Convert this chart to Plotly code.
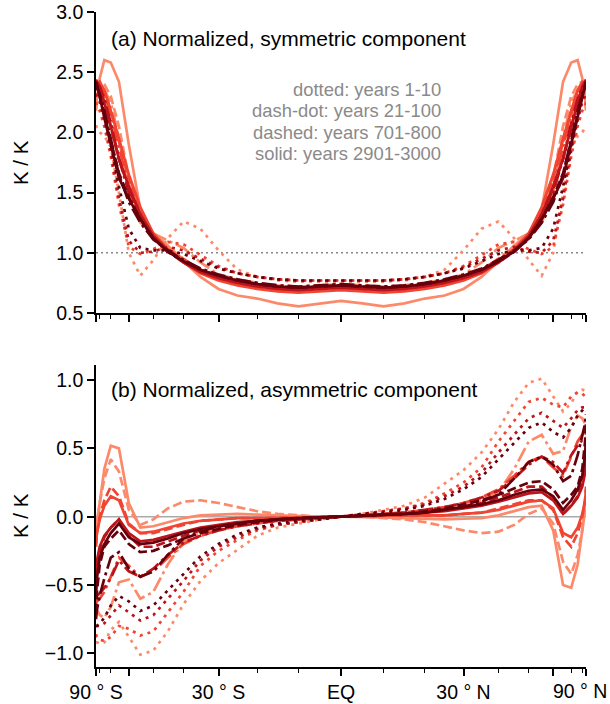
import numpy as np
import plotly.graph_objects as go

# Latitudes of the northern-hemisphere samples (degrees)
lat_nh = [0, 5, 10, 15, 20, 25, 30, 35, 40, 45, 50, 55, 60, 65, 70, 75, 80, 85, 90]

# Experiment colours (light to dark) and period line styles
colors = ["#fc8a6a", "#f14432", "#bc141a", "#67000d"]
periods = ["years 1-10", "years 21-100", "years 701-800", "years 2901-3000"]
dashes = ["3px,5px", "15px,4px,3px,4px", "9px,4px", "solid"]

# (a) normalized symmetric component, NH half (even in latitude)
sym = {
    (0, 0): [0.76, 0.76, 0.76, 0.77, 0.80, 0.86, 1.02, 1.20, 1.26, 1.12, 0.94, 0.81, 1.00, 1.50, 1.88, 1.97, 2.00, 2.04, 2.06],
    (1, 0): [0.77, 0.77, 0.77, 0.78, 0.80, 0.83, 0.89, 0.98, 1.07, 1.09, 1.03, 0.99, 1.05, 1.40, 1.80, 2.05, 2.18, 2.22, 2.25],
    (2, 0): [0.77, 0.77, 0.77, 0.78, 0.80, 0.83, 0.88, 0.95, 1.02, 1.05, 1.01, 1.00, 1.10, 1.45, 1.85, 2.10, 2.25, 2.30, 2.32],
    (3, 0): [0.77, 0.77, 0.77, 0.78, 0.80, 0.83, 0.87, 0.93, 0.99, 1.02, 1.02, 1.04, 1.20, 1.55, 1.90, 2.15, 2.30, 2.38, 2.40],
    (0, 1): [0.74, 0.73, 0.72, 0.73, 0.75, 0.78, 0.82, 0.92, 1.04, 1.10, 1.16, 1.25, 1.50, 1.95, 2.25, 2.35, 2.38, 2.30, 2.20],
    (1, 1): [0.72, 0.71, 0.70, 0.71, 0.73, 0.76, 0.80, 0.86, 0.95, 1.03, 1.13, 1.30, 1.55, 1.88, 2.15, 2.32, 2.40, 2.38, 2.35],
    (2, 1): [0.73, 0.72, 0.71, 0.72, 0.74, 0.77, 0.81, 0.86, 0.94, 1.02, 1.12, 1.28, 1.50, 1.78, 2.08, 2.28, 2.38, 2.40, 2.40],
    (3, 1): [0.74, 0.73, 0.72, 0.73, 0.75, 0.78, 0.82, 0.87, 0.94, 1.02, 1.11, 1.25, 1.42, 1.65, 1.95, 2.18, 2.32, 2.38, 2.40],
    (0, 2): [0.70, 0.69, 0.68, 0.69, 0.71, 0.74, 0.78, 0.85, 0.95, 1.05, 1.15, 1.32, 1.62, 2.05, 2.30, 2.40, 2.42, 2.35, 2.25],
    (1, 2): [0.70, 0.69, 0.68, 0.69, 0.71, 0.74, 0.78, 0.84, 0.92, 1.02, 1.15, 1.35, 1.62, 1.92, 2.18, 2.34, 2.42, 2.40, 2.38],
    (2, 2): [0.72, 0.71, 0.70, 0.71, 0.73, 0.76, 0.80, 0.85, 0.92, 1.01, 1.13, 1.31, 1.53, 1.78, 2.05, 2.25, 2.36, 2.40, 2.42],
    (3, 2): [0.73, 0.72, 0.71, 0.72, 0.74, 0.77, 0.81, 0.86, 0.93, 1.01, 1.12, 1.28, 1.46, 1.66, 1.92, 2.14, 2.30, 2.38, 2.42],
    (0, 3): [0.60, 0.58, 0.555, 0.58, 0.62, 0.645, 0.70, 0.80, 0.93, 1.06, 1.16, 1.36, 1.90, 2.42, 2.58, 2.60, 2.45, 2.28, 2.18],
    (1, 3): [0.69, 0.68, 0.67, 0.68, 0.70, 0.73, 0.77, 0.83, 0.92, 1.03, 1.16, 1.38, 1.65, 1.95, 2.18, 2.35, 2.42, 2.40, 2.38],
    (2, 3): [0.71, 0.70, 0.69, 0.70, 0.72, 0.75, 0.79, 0.84, 0.92, 1.02, 1.14, 1.32, 1.55, 1.78, 2.05, 2.25, 2.38, 2.42, 2.44],
    (3, 3): [0.73, 0.72, 0.71, 0.72, 0.74, 0.77, 0.81, 0.86, 0.93, 1.01, 1.12, 1.28, 1.45, 1.62, 1.90, 2.12, 2.30, 2.40, 2.42],
}

# (b) normalized asymmetric component, NH half (odd in latitude)
asym = {
    (0, 0): [0, 0.02, 0.05, 0.08, 0.14, 0.24, 0.34, 0.47, 0.64, 0.84, 0.98, 1.01, 0.88, 0.77, 0.83, 0.92, 0.93, 0.92, 0.92],
    (1, 0): [0, 0.02, 0.04, 0.06, 0.10, 0.17, 0.25, 0.36, 0.55, 0.70, 0.84, 0.87, 0.82, 0.80, 0.88, 0.91, 0.90, 0.88, 0.86],
    (2, 0): [0, 0.02, 0.04, 0.06, 0.09, 0.15, 0.22, 0.32, 0.47, 0.60, 0.72, 0.76, 0.70, 0.65, 0.72, 0.78, 0.80, 0.80, 0.80],
    (3, 0): [0, 0.02, 0.03, 0.05, 0.08, 0.13, 0.20, 0.29, 0.42, 0.54, 0.65, 0.69, 0.62, 0.58, 0.65, 0.74, 0.78, 0.80, 0.80],
    (0, 1): [0, 0.01, 0.02, 0.03, 0.04, 0.06, 0.08, 0.12, 0.18, 0.35, 0.55, 0.60, 0.46, 0.48, 0.66, 0.74, 0.72, 0.68, 0.64],
    (1, 1): [0, 0.01, 0.02, 0.03, 0.05, 0.07, 0.10, 0.14, 0.20, 0.30, 0.40, 0.44, 0.36, 0.30, 0.44, 0.55, 0.60, 0.62, 0.60],
    (2, 1): [0, 0.01, 0.02, 0.03, 0.05, 0.07, 0.10, 0.14, 0.19, 0.28, 0.38, 0.44, 0.40, 0.32, 0.45, 0.52, 0.56, 0.58, 0.58],
    (3, 1): [0, 0.005, 0.01, 0.02, 0.03, 0.05, 0.07, 0.11, 0.16, 0.28, 0.40, 0.44, 0.38, 0.26, 0.30, 0.45, 0.58, 0.68, 0.75],
    (0, 2): [0, 0, -0.01, -0.02, -0.04, -0.07, -0.10, -0.12, -0.11, -0.06, 0.02, 0.06, -0.05, -0.33, -0.42, -0.28, -0.10, 0.08, 0.18],
    (1, 2): [0, 0.005, 0.01, 0.01, 0.01, 0.01, 0.02, 0.03, 0.06, 0.09, 0.12, 0.12, 0.05, -0.15, -0.22, -0.12, 0.0, 0.12, 0.22],
    (2, 2): [0, 0.005, 0.01, 0.02, 0.03, 0.05, 0.07, 0.10, 0.14, 0.18, 0.22, 0.22, 0.14, 0.02, 0.08, 0.15, 0.25, 0.40, 0.55],
    (3, 2): [0, 0.005, 0.01, 0.02, 0.04, 0.06, 0.09, 0.12, 0.16, 0.21, 0.25, 0.26, 0.20, 0.10, 0.16, 0.22, 0.35, 0.55, 0.70],
    (0, 3): [0, 0, -0.005, -0.01, -0.015, -0.02, -0.015, -0.01, 0.01, 0.04, 0.07, 0.08, -0.10, -0.50, -0.52, -0.35, -0.10, 0.03, 0.10],
    (1, 3): [0, 0.005, 0.01, 0.01, 0.01, 0.01, 0.02, 0.03, 0.05, 0.08, 0.11, 0.12, 0.06, -0.12, -0.15, -0.08, 0.02, 0.12, 0.20],
    (2, 3): [0, 0.005, 0.01, 0.02, 0.03, 0.04, 0.06, 0.08, 0.11, 0.14, 0.17, 0.18, 0.12, 0.02, 0.08, 0.14, 0.22, 0.32, 0.40],
    (3, 3): [0, 0.005, 0.01, 0.02, 0.03, 0.05, 0.07, 0.09, 0.12, 0.16, 0.19, 0.20, 0.15, 0.05, 0.12, 0.20, 0.30, 0.45, 0.55],
}

# x-axis tick positions / labels (latitude, area-weighted axis)
major_lats = [-90, -60, -30, 0, 30, 60, 90]
major_text = ["90 ° S", "", "30 ° S", "EQ", "30 ° N", "", ""]
edge_label = "90 ° N"   # right-most label, kept inside the page edge
minor_lats = [-80, -70, -50, -40, -20, -10, 10, 20, 40, 50, 70, 80]

legend_lines = ["dotted: years 1-10", "dash-dot: years 21-100",
                "dashed: years 701-800", "solid: years 2901-3000"]

FONT = "Liberation Sans, Arial, Helvetica, sans-serif"

# plot-area geometry in pixels
W, H = 610, 704
L, R, T, B = 96, 24, 12, 37
PW, PH = W - L - R, H - T - B


def px_x(px):
    return (px - L) / PW


def px_y(py):
    return (H - B - py) / PH


def sinlat(lats):
    return np.sin(np.deg2rad(np.asarray(lats, dtype=float)))


lat_full = [-v for v in lat_nh[::-1][:-1]] + lat_nh
x_full = sinlat(lat_full)


def even(nh):
    return list(nh[::-1][:-1]) + list(nh)


def odd(nh):
    return [-v for v in nh[::-1][:-1]] + list(nh)


fig = go.Figure()
for ci, col in enumerate(colors):
    for pi, dash in enumerate(dashes):
        fig.add_trace(go.Scatter(
            x=x_full, y=even(sym[(ci, pi)]), mode="lines",
            line=dict(color=col, width=2.7, dash=dash),
            xaxis="x", yaxis="y", showlegend=False, hoverinfo="skip"))
        fig.add_trace(go.Scatter(
            x=x_full, y=odd(asym[(ci, pi)]), mode="lines",
            line=dict(color=col, width=2.7, dash=dash),
            xaxis="x2", yaxis="y2", showlegend=False, hoverinfo="skip"))

axis_common = dict(
    showline=True, linecolor="black", linewidth=1.5, mirror=False,
    ticks="outside", ticklen=7, tickwidth=1.5, tickcolor="black",
    showgrid=False, zeroline=False, automargin=False,
    tickfont=dict(family=FONT, size=19.5, color="black"),
)

xa = dict(axis_common, range=[-1, 1], tickmode="array",
          tickvals=list(sinlat(major_lats)),
          minor=dict(tickmode="array", tickvals=list(sinlat(minor_lats)),
                     ticks="outside", ticklen=4, tickwidth=1.2, tickcolor="black"))

fig.update_layout(
    width=W, height=H,
    margin=dict(l=L, r=R, t=T, b=B),
    paper_bgcolor="white", plot_bgcolor="white",
    xaxis=dict(xa, anchor="y", ticktext=[""] * len(major_lats)),
    yaxis=dict(axis_common, domain=[px_y(313), 1.0], range=[0.5, 3.0],
               tickvals=[0.5, 1.0, 1.5, 2.0, 2.5, 3.0], tickformat=".1f", anchor="x"),
    xaxis2=dict(xa, anchor="y2", ticktext=major_text),
    yaxis2=dict(axis_common, domain=[0.0, px_y(365)], range=[-1.1, 1.11],
                tickvals=[-1.0, -0.5, 0.0, 0.5, 1.0],
                ticktext=["\u22121.0", "\u22120.5", "0.0", "0.5", "1.0"], anchor="x2"),
    showlegend=False,
)

# reference levels
fig.add_shape(type="line", xref="x", yref="y", x0=-1, x1=1, y0=1.0, y1=1.0,
              line=dict(color="#888888", width=1.5, dash="2px,3px"), layer="below")
fig.add_shape(type="line", xref="x2", yref="y2", x0=-1, x1=1, y0=0.0, y1=0.0,
              line=dict(color="#aaaaaa", width=1.5), layer="below")

fig.add_annotation(text=edge_label, xref="paper", yref="paper",
                   x=px_x(609), y=px_y(691), xanchor="right", yanchor="middle",
                   showarrow=False, font=dict(family=FONT, size=19.5, color="black"))

fig.add_annotation(text="(a) Normalized, symmetric component", xref="paper", yref="paper",
                   x=px_x(109), y=px_y(38), xanchor="left", yanchor="middle", showarrow=False,
                   font=dict(family=FONT, size=21, color="black"))
fig.add_annotation(text="(b) Normalized, asymmetric component", xref="paper", yref="paper",
                   x=px_x(109), y=px_y(390), xanchor="left", yanchor="middle", showarrow=False,
                   font=dict(family=FONT, size=21, color="black"))
for i, line in enumerate(legend_lines):
    fig.add_annotation(text=line, xref="paper", yref="paper",
                       x=px_x(443), y=px_y(90 + 21 * i), xanchor="right", yanchor="middle",
                       showarrow=False, font=dict(family=FONT, size=18.4, color="#8a8a8a"))
for yc in (163, 516):
    fig.add_annotation(text="K / K", xref="paper", yref="paper", x=px_x(20), y=px_y(yc),
                       xanchor="center", yanchor="middle", textangle=-90, showarrow=False,
                       font=dict(family=FONT, size=20.5, color="black"))

fig.write_html("out.html")
